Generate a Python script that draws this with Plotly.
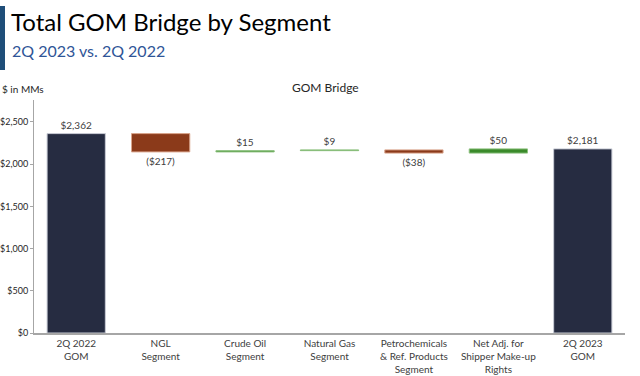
import plotly.graph_objects as go

categories = ["2Q 2022<br>GOM", "NGL<br>Segment", "Crude Oil<br>Segment", "Natural Gas<br>Segment",
              "Petrochemicals<br>& Ref. Products<br>Segment", "Net Adj. for<br>Shipper Make-up<br>Rights",
              "2Q 2023<br>GOM"]
values = [2362, -217, 15, 9, -38, 50, 2181]
measures = ["absolute", "relative", "relative", "relative", "relative", "relative", "total"]
labels = ["$2,362", "($217)", "$15", "$9", "($38)", "$50", "$2,181"]
tick_vals = [0, 500, 1000, 1500, 2000, 2500]
tick_text = ["$0", "$500", "$1,000", "$1,500", "$2,000", "$2,500"]

NAVY = "#262C41"
BROWN = "#8B3A1A"
GREEN = "#3A8A2A"

L, R, T, B = 34, 15, 100, 43
PW, PH = 640 - L - R, 376 - T - B


def px(x):
    return (x - L) / PW


def py(y):
    return (376 - B - y) / PH


fig = go.Figure(go.Waterfall(
    x=categories,
    y=[v if m != "total" else 0 for v, m in zip(values, measures)],
    measure=measures,
    text=labels,
    textposition="outside",
    textfont=dict(size=10, color="#404040", family="Lato"),
    increasing=dict(marker=dict(color=GREEN, line=dict(color="#8CC07E", width=1))),
    decreasing=dict(marker=dict(color=BROWN, line=dict(color="#D9A48C", width=1))),
    totals=dict(marker=dict(color=NAVY, line=dict(color="#C9CCD6", width=1))),
    connector=dict(visible=False),
    width=0.69,
    cliponaxis=False,
))

fig.update_layout(
    width=640, height=376,
    margin=dict(l=L, r=R, t=T, b=B),
    paper_bgcolor="white", plot_bgcolor="white",
    showlegend=False,
    font=dict(family="Lato", color="#404040"),
    xaxis=dict(showline=True, linecolor="#A6A6A6", linewidth=2, tickfont=dict(size=10, color="#404040"),
               ticks="", showgrid=False, automargin=False),
    yaxis=dict(range=[0, 2760], tickvals=tick_vals, ticktext=tick_text,
               showline=True, linecolor="#A6A6A6", linewidth=1, ticks="outside", ticklen=3,
               tickcolor="#A6A6A6", showgrid=False, zeroline=False, automargin=False,
               tickfont=dict(size=9, color="#262626")),
)

fig.add_shape(type="rect", xref="paper", yref="paper", x0=px(0), x1=px(5),
              y0=py(6), y1=py(70), fillcolor="#1F4E79", line_width=0)

fig.add_annotation(text="Total GOM Bridge by Segment", xref="paper", yref="paper",
                   x=px(9), y=py(5), xanchor="left", yanchor="top", showarrow=False,
                   font=dict(size=24, color="#000000", family="Lato"))
fig.add_annotation(text="2Q 2023 vs. 2Q 2022", xref="paper", yref="paper",
                   x=px(10), y=py(39), xanchor="left", yanchor="top", showarrow=False,
                   font=dict(size=16, color="#2F5597", family="Lato"))
fig.add_annotation(text="$ in MMs", xref="paper", yref="paper",
                   x=px(0), y=py(81), xanchor="left", yanchor="top", showarrow=False,
                   font=dict(size=10, color="#262626", family="Lato"))
fig.add_annotation(text="GOM Bridge", xref="paper", yref="paper",
                   x=px(325), y=py(78), xanchor="center", yanchor="top", showarrow=False,
                   font=dict(size=12, color="#262626", family="Lato"))

fig.write_html("out.html", config={"displayModeBar": False},
               post_script="document.body.style.margin='0';")
